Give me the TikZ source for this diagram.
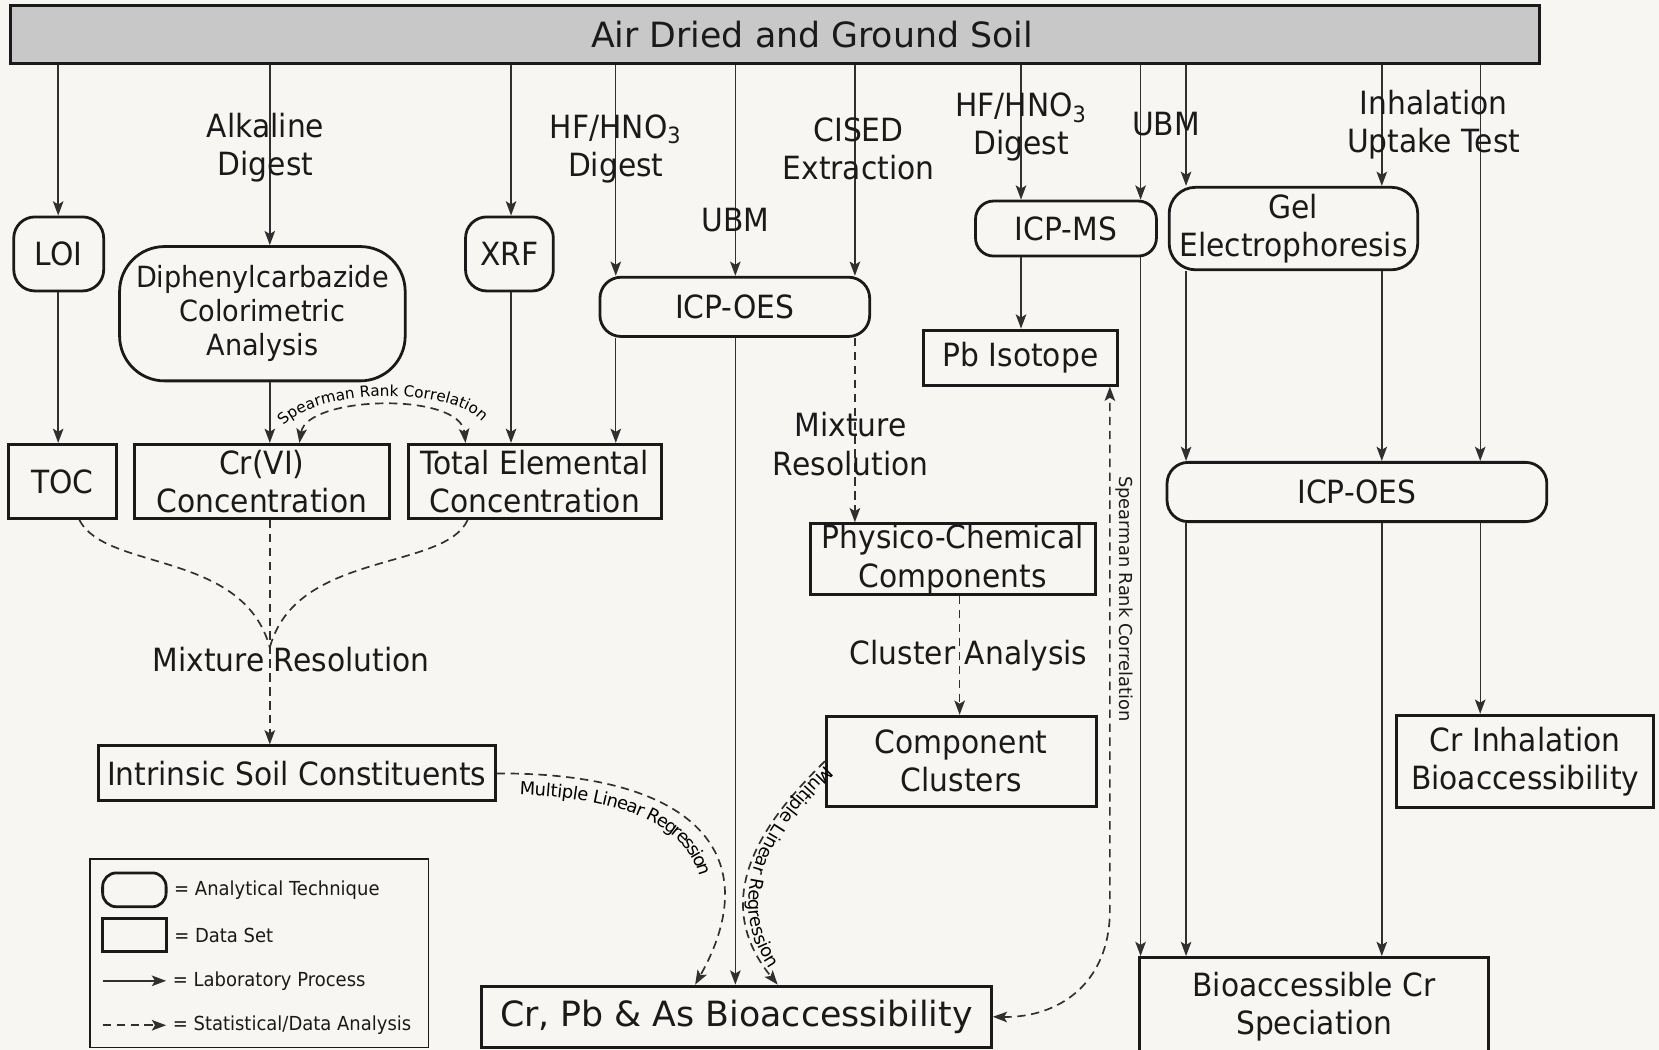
\documentclass[tikz,border=0pt]{standalone}
\usepackage{fontspec}
\setmainfont{DejaVu Sans}
\newfontfamily\condfont{DejaVu Sans}[FakeStretch=0.93]
\usetikzlibrary{arrows.meta,decorations.text}
\definecolor{paper}{HTML}{F7F6F2}
\definecolor{ink}{HTML}{1A1A1A}
\definecolor{wire}{HTML}{303030}
\definecolor{barGray}{HTML}{C8C8C8}
\newcommand{\boxfont}{\condfont\fontsize{17.2}{20.5}\selectfont}
\newcommand{\diphfont}{\condfont\fontsize{15.7}{18.2}\selectfont}
\newcommand{\titlefont}{\fontsize{18.7}{22}\selectfont}
\newcommand{\legfont}{\condfont\fontsize{10.4}{12}\selectfont}
\newcommand{\pathfont}{\fontsize{9.6}{11}\selectfont}
\newcommand{\arcfont}{\fontsize{8.2}{9}\selectfont}

\begin{document}
\begin{tikzpicture}[
    x=0.02cm, y=-0.02cm,
    >={Stealth[length=0.27cm,width=0.2cm,inset=0.06cm]},
    boxdims/.style 2 args={minimum width=#1, minimum height=#2},
    tech/.style={draw=ink, line width=1.5pt, rounded corners=0.4cm, align=center, inner sep=0pt, text=ink, font=\boxfont},
    dataset/.style={draw=ink, line width=1.6pt, align=center, inner sep=0pt, text=ink, font=\boxfont},
    bar/.style={draw=ink, fill=barGray, line width=1.9pt, inner sep=0pt, text=ink, font=\titlefont},
    lbl/.style={align=center, inner sep=0pt, text=ink, font=\boxfont},
    legtxt/.style={right, inner sep=0.12cm, text=ink, font=\legfont},
    lab/.style={->, draw=wire, line width=0.75pt},
    stat/.style={->, draw=wire, line width=0.9pt, dash pattern=on 4.5pt off 3pt}
]
    \useasboundingbox (0,0) rectangle (1568,992);
    \fill[paper] (0,0) rectangle (1568,992);

    \node[bar, boxdims={28.9cm}{1.1cm}] (bar) at (732.5,32.5) {\hspace*{1.4cm}Air Dried and Ground Soil};

    \node[tech, boxdims={1.7cm}{1.4cm}] (loi) at (55.5,240) {LOI};
    \node[dataset, boxdims={2.04cm}{1.4cm}] (toc) at (59,455) {TOC};
    \node[tech, boxdims={5.4cm}{2.54cm}, rounded corners=0.85cm, font=\diphfont] (diph) at (248,296.5) {Diphenylcarbazide\\Colorimetric\\Analysis};
    \node[dataset, boxdims={4.82cm}{1.4cm}] (crvi) at (247.5,455) {Cr(VI)\\Concentration};
    \node[tech, boxdims={1.66cm}{1.4cm}] (xrf) at (481.5,240) {XRF};
    \node[dataset, boxdims={4.78cm}{1.4cm}] (total) at (505.5,455) {Total Elemental\\Concentration};
    \node[dataset, boxdims={7.5cm}{1.04cm}] (intr) at (280.5,731) {Intrinsic Soil Constituents};

    \node[tech, boxdims={5.1cm}{1.12cm}] (icpa) at (694.5,290) {ICP-OES};
    \node[dataset, boxdims={5.38cm}{1.34cm}] (physico) at (900.5,528.5) {Physico-Chemical\\Components};
    \node[dataset, boxdims={5.1cm}{1.7cm}] (clusters) at (908.5,719.5) {Component\\Clusters};
    \node[dataset, boxdims={9.64cm}{1.16cm}, font=\titlefont] (cpas) at (696,961) {Cr, Pb \& As Bioaccessibility};

    \node[tech, boxdims={3.42cm}{1.04cm}, rounded corners=0.34cm] (icpms) at (1007.5,216) {ICP-MS};
    \node[dataset, boxdims={3.66cm}{1.04cm}] (pb) at (964.5,338) {Pb Isotope};
    \node[tech, boxdims={4.7cm}{1.56cm}, rounded corners=0.5cm] (gel) at (1222.5,216) {Gel\\Electrophoresis};
    \node[tech, boxdims={7.18cm}{1.12cm}] (icpb) at (1282.5,465) {ICP-OES};
    \node[dataset, boxdims={4.86cm}{1.74cm}] (crinh) at (1441.5,719.5) {Cr Inhalation\\Bioaccessibility};
    \node[dataset, boxdims={6.6cm}{1.86cm}] (bcr) at (1242,951.5) {Bioaccessible Cr\\Speciation};

    \foreach \n/\x in {Loi/55, Alk/255, Xrf/483, Hf/582, Ubm/695, Cised/808, Clus/907,
                       HfB/965, UbmB/1078, Gel/1121, Inh/1306, InhB/1399}
        \coordinate (x\n) at (\x,0);
    \coordinate (mixjoin) at (255,612);
    \coordinate (spbend) at (1049,860);

    \draw[lab] (xLoi |- bar.south) -- (xLoi |- loi.north);
    \draw[lab] (xLoi |- loi.south) -- (xLoi |- toc.north);
    \draw[lab] (xAlk |- bar.south) -- node[lbl, pos=0.46, xshift=-0.08cm] {Alkaline\\Digest} (xAlk |- diph.north);
    \draw[lab] (xAlk |- diph.south) -- (xAlk |- crvi.north);
    \draw[lab] (xXrf |- bar.south) -- (xXrf |- xrf.north);
    \draw[lab] (xXrf |- xrf.south) -- (xXrf |- total.north);

    \draw[lab] (xHf |- bar.south) -- node[lbl, pos=0.396] {HF/HNO\textsubscript{3}\\Digest} (xHf |- icpa.north);
    \draw[lab] (xUbm |- bar.south) -- node[lbl, pos=0.733] {UBM} (xUbm |- icpa.north);
    \draw[lab] (xCised |- bar.south) -- node[lbl, pos=0.396, xshift=0.07cm] {CISED\\Extraction} (xCised |- icpa.north);
    \draw[lab] (xHf |- icpa.south) -- (xHf |- total.north);
    \draw[lab] (xUbm |- icpa.south) -- (xUbm |- cpas.north);
    \draw[stat] (xCised |- icpa.south) -- node[lbl, pos=0.576, xshift=-0.08cm] {Mixture\\Resolution} (xCised |- physico.north);
    \draw[stat] (xClus |- physico.south) -- node[lbl, pos=0.504, xshift=0.17cm] {Cluster Analysis} (xClus |- clusters.north);

    \draw[lab] (xHfB |- bar.south) -- node[lbl, pos=0.46] {HF/HNO\textsubscript{3}\\Digest} (xHfB |- icpms.north);
    \draw[lab] (xUbmB |- bar.south) -- (xUbmB |- icpms.north);
    \draw[lab] (xGel |- bar.south) -- (xGel |- gel.north);
    \draw[lab] (xInh |- bar.south) -- (xInh |- gel.north);
    \draw[lab] (xInhB |- bar.south) -- (xInhB |- icpb.north);
    \node[lbl] (ubmlbl) at (1102,117) {UBM};
    \node[lbl] (inhlbl) at (1355,118) {Inhalation\\Uptake Test};

    \draw[lab] (xHfB |- icpms.south) -- (xHfB |- pb.north);
    \draw[lab] (xUbmB |- icpms.south) -- (xUbmB |- bcr.north);
    \draw[lab] (xGel |- gel.south) -- (xGel |- icpb.north);
    \draw[lab] (xInh |- gel.south) -- (xInh |- icpb.north);
    \draw[lab] (xGel |- icpb.south) -- (xGel |- bcr.north);
    \draw[lab] (xInh |- icpb.south) -- (xInh |- bcr.north);
    \draw[lab] (xInhB |- icpb.south) -- (xInhB |- crinh.north);

    \draw[stat, <->] ([xshift=0.71cm]crvi.north) .. controls (290,374) and (435,370) .. ([xshift=-1.31cm]total.north);
    \path[decorate, decoration={text along path, text align=center, text={|\arcfont|Spearman Rank Correlation}}]
        (262,416) .. controls (268,364) and (455,359) .. (462,412);

    \draw[stat] (xAlk |- crvi.south) -- (xAlk |- intr.north);
    \draw[stat, -] ([xshift=0.32cm]toc.south) .. controls (100,540) and (230,520) .. (mixjoin);
    \draw[stat, -] ([xshift=-1.27cm]total.south) .. controls (420,540) and (280,520) .. (mixjoin);
    \node[lbl] (mixlbl) at (275,623) {Mixture Resolution};

    \draw[stat, postaction={decorate, decoration={text along path, raise=-0.4cm, text align={left, left indent=0.45cm},
          text={|\pathfont|Multiple Linear Regression}}}]
        (intr.east) .. controls (660,730) and (725,810) .. ([xshift=-0.78cm]cpas.north);
    \draw[stat, postaction={decorate, decoration={text along path, raise=0.06cm, text align={left, left indent=0.05cm},
          text={|\pathfont|Multiple Linear Regression}}}]
        (clusters.west) .. controls (730,768) and (665,845) .. ([xshift=0.78cm]cpas.north);

    \draw[stat, <->] (cpas.east) .. controls (1000,962) and (1049,930) .. (spbend) -- (pb.south -| spbend);
    \node[lbl, font=\pathfont, rotate=-90] (spearlbl) at (1063,566) {Spearman Rank Correlation};

    \node[draw=ink, line width=1pt, boxdims={6.4cm}{3.56cm}] (legend) at (245,901) {};
    \node[tech, boxdims={1.2cm}{0.64cm}, rounded corners=0.26cm] (legtech) at (127,841) {};
    \node[legtxt] (legtechtxt) at (legtech.east) {= Analytical Technique};
    \node[dataset, boxdims={1.2cm}{0.62cm}] (legdata) at (127,884) {};
    \node[legtxt] (legdatatxt) at (legdata.east) {= Data Set};
    \coordinate (leglabin) at (97,927);
    \coordinate (leglabout) at (157,927);
    \draw[lab] (leglabin) -- (leglabout);
    \node[legtxt] (leglabtxt) at (leglabout) {= Laboratory Process};
    \coordinate (legstatin) at (97,969);
    \coordinate (legstatout) at (157,969);
    \draw[stat] (legstatin) -- (legstatout);
    \node[legtxt] (legstattxt) at (legstatout) {= Statistical/Data Analysis};
\end{tikzpicture}
\end{document}
